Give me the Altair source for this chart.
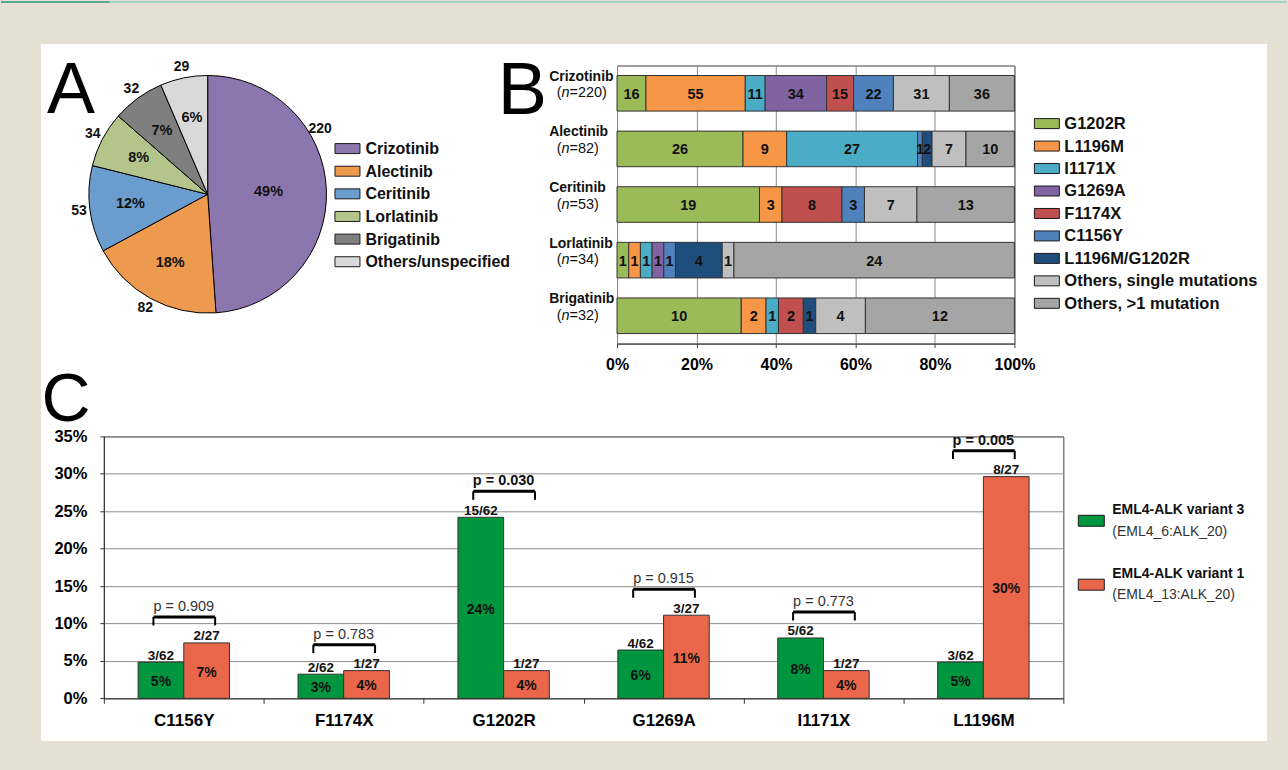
import altair as alt
import pandas as pd

FONT = "Liberation Sans"

# ---------------- data ----------------
# Panel A: patients per ALK TKI
a_drugs = ["Crizotinib", "Alectinib", "Ceritinib", "Lorlatinib", "Brigatinib", "Others/unspecified"]
a_counts = [220, 82, 53, 34, 32, 29]
a_colors = ["#8b76ad", "#ed9a4e", "#6a9dce", "#b4c58b", "#7f7f7f", "#d9d9d9"]

# Panel B: resistance mutations by drug
b_drugs = ["Crizotinib", "Alectinib", "Ceritinib", "Lorlatinib", "Brigatinib"]
b_totals = [220, 82, 53, 34, 32]
b_mutations = ["G1202R", "L1196M", "I1171X", "G1269A", "F1174X", "C1156Y",
               "L1196M/G1202R", "Others, single mutations", "Others, >1 mutation"]
b_colors = ["#9bbb59", "#f79646", "#4bacc6", "#8064a2", "#c0504d", "#4f81bd",
            "#1f4e7d", "#bfbfbf", "#a5a5a5"]
b_crizotinib = [16, 55, 11, 34, 15, 22, 0, 31, 36]
b_alectinib = [26, 9, 27, 0, 0, 1, 2, 7, 10]
b_ceritinib = [19, 3, 0, 0, 8, 3, 0, 7, 13]
b_lorlatinib = [1, 1, 1, 1, 0, 1, 4, 1, 24]
b_brigatinib = [10, 2, 1, 0, 2, 0, 1, 4, 12]

# Panel C: mutation frequency by EML4-ALK variant
c_mutations = ["C1156Y", "F1174X", "G1202R", "G1269A", "I1171X", "L1196M"]
c_variants = ["EML4-ALK variant 3", "EML4-ALK variant 1"]
c_variant_sub = ["(EML4_6:ALK_20)", "(EML4_13:ALK_20)"]
c_variant_n = [62, 27]
c_v3_counts = [3, 2, 15, 4, 5, 3]
c_v1_counts = [2, 1, 1, 3, 1, 8]
c_p_values = [0.909, 0.783, 0.030, 0.915, 0.773, 0.005]
c_colors = ["#00963f", "#e9664a"]

# ---------------- layout constants ----------------
W, H = 1288, 770
OX, OY = 103, 64.5          # absolute origin of first panel
A_W, TOP_H = 504, 278.5
GAP_H = 10
B_X = OX + A_W + GAP_H      # 617
B_W = 398
C_Y = 436
C_W, C_H = 961, 262.3
VGAP = C_Y - OY             # nested concat row is laid out flush from its top edge

RECT25 = "M-1,-0.4H1V0.4H-1Z"
RECT26 = "M-1,-0.423H1V0.423H-1Z"

one = pd.DataFrame({"k": [0]})


def rect_abs(x0, x1, y0, y1, color):
    return alt.Chart(one).mark_rect(color=color).encode(
        x=alt.value(x0 - OX), x2=alt.value(x1 - OX),
        y=alt.value(y0 - OY), y2=alt.value(y1 - OY))


def letter(t, x, y, size):
    return alt.Chart(pd.DataFrame({"t": [t]})).mark_text(
        fontSize=size, align="left", baseline="alphabetic", color="black", font=FONT
    ).encode(x=alt.value(x), y=alt.value(y), text="t:N")


# ---------------- Panel A ----------------
CX, CY = 207 - OX, 193.5 - OY
a_df = pd.DataFrame({"drug": a_drugs, "count": a_counts, "idx": list(range(len(a_drugs)))})
a_color = alt.Color("drug:N", scale=alt.Scale(domain=a_drugs, range=a_colors), legend=None)

pie_base = alt.Chart(a_df).transform_joinaggregate(
    total="sum(count)"
).transform_window(
    cum="sum(count)", sort=[alt.SortField("idx")], frame=[None, 0]
).transform_calculate(
    share="datum.count / datum.total",
    pct="format(datum.count / datum.total, '.0%')",
    mid_ang="2 * PI * (datum.cum - datum.count / 2) / datum.total",
    lab_ang="2 * PI * (datum.cum - datum.count + min(datum.count, datum.total / 3) / 2) / datum.total",
)

arcs = pie_base.mark_arc(outerRadius=119, stroke="black", strokeWidth=1).encode(
    theta=alt.Theta("count:Q", stack=True),
    order=alt.Order("idx:Q"),
    color=a_color,
    x=alt.value(CX), y=alt.value(CY),
)
pct_big = pie_base.transform_filter("datum.share > 0.4").mark_text(
    radius=61, fontSize=14.5, fontWeight="bold", color="#111", baseline="middle"
).encode(theta=alt.Theta("mid_ang:Q", scale=None, stack=False), text="pct:N",
         x=alt.value(CX), y=alt.value(CY))
pct_rest = pie_base.transform_filter("datum.share <= 0.4").mark_text(
    radius=78, fontSize=14.5, fontWeight="bold", color="#111", baseline="middle"
).encode(theta=alt.Theta("mid_ang:Q", scale=None, stack=False), text="pct:N",
         x=alt.value(CX), y=alt.value(CY))
cnt = pie_base.mark_text(
    radius=130, fontSize=14, fontWeight="bold", color="#111", baseline="middle"
).encode(theta=alt.Theta("lab_ang:Q", scale=None, stack=False), text="count:Q",
         x=alt.value(CX), y=alt.value(CY))

a_leg_y = alt.Y("drug:N", scale=alt.Scale(type="point", domain=a_drugs,
                                          range=[147.7 - OY, 147.7 - OY + 5 * 22.67], padding=0),
                axis=None)
a_sw = alt.Chart(a_df).mark_point(shape=RECT25, size=625, filled=True, opacity=1,
                                  stroke="#1a1a1a", strokeWidth=1).encode(
    x=alt.value(347 - OX), y=a_leg_y, color=a_color)
a_lt = alt.Chart(a_df).mark_text(align="left", baseline="middle", fontSize=16,
                                 fontWeight="bold", color="#111", dy=0.5).encode(
    x=alt.value(365 - OX), y=a_leg_y, text="drug:N")

chart_a = alt.layer(
    rect_abs(0, W, 0, H, "#e6dfd3"),
    rect_abs(0, 109, 0, 2, "#5ca792"),
    rect_abs(109, W, 0, 2, "#a3d3c5"),
    rect_abs(40, 1268, 43, 741, "#ffffff"),
    arcs, pct_big, pct_rest, cnt, a_sw, a_lt,
    letter("A", 46 - OX, 112 - OY, 72),
).properties(width=A_W, height=TOP_H)

# ---------------- Panel B ----------------
b_rows = []
for drug, n, counts in zip(b_drugs, b_totals,
                           [b_crizotinib, b_alectinib, b_ceritinib, b_lorlatinib, b_brigatinib]):
    for i, (m, c) in enumerate(zip(b_mutations, counts)):
        b_rows.append({"drug": drug, "n": n, "mut": m, "mi": i, "count": c})
b_df = pd.DataFrame(b_rows)

b_base = alt.Chart(b_df).transform_filter("datum.count > 0").transform_joinaggregate(
    total="sum(count)", groupby=["drug"]
).transform_window(
    cum="sum(count)", sort=[alt.SortField("mi")], groupby=["drug"], frame=[None, 0]
).transform_calculate(
    x0="(datum.cum - datum.count) / datum.total",
    x1="datum.cum / datum.total",
    xm="(datum.cum - datum.count / 2) / datum.total",
)

b_y = alt.Y("drug:N", scale=alt.Scale(domain=b_drugs, paddingInner=0.36, paddingOuter=0.18), axis=None)
b_xscale = alt.Scale(domain=[0, 1], nice=False)
b_color = alt.Color("mut:N", scale=alt.Scale(domain=b_mutations, range=b_colors), legend=None)
b_x_axis = alt.Axis(values=[0, 0.2, 0.4, 0.6, 0.8, 1.0], format="%", grid=True,
                    gridColor="#8c8c8c", gridWidth=1, domainColor="#404040",
                    tickColor="#404040", tickSize=4, labelFontSize=16, labelFontWeight="bold",
                    labelColor="black", labelPadding=9, labelFlush=False, labelOverlap=False,
                    title=None)

bars_b = b_base.mark_bar(stroke="#333333", strokeWidth=1).encode(
    x=alt.X("x0:Q", scale=b_xscale, axis=b_x_axis), x2="x1:Q", y=b_y, color=b_color)
txt_b = b_base.mark_text(fontSize=14.5, fontWeight="bold", color="#111", baseline="middle", dy=1.5).encode(
    x=alt.X("xm:Q", scale=b_xscale, axis=b_x_axis), y=b_y, text="count:Q")

# category labels: bold drug name, then "(n=...)" with an italic n
b_lab_df = pd.DataFrame({"drug": b_drugs, "n": b_totals})
LAB1_X = 549 - B_X
LAB2_X = 556.5 - B_X
ylab1 = alt.Chart(b_lab_df).mark_text(fontSize=14, fontWeight="bold", color="#111",
                                      baseline="middle", align="left", dy=-16.5).encode(
    x=alt.value(LAB1_X), y=b_y, text="drug:N")
lab2_base = alt.Chart(b_lab_df).transform_calculate(
    open="'('", nn="'n'", rest="'=' + datum.n + ')'")
ylab2a = lab2_base.mark_text(fontSize=14.5, color="#111", baseline="middle", align="left", dy=0).encode(
    x=alt.value(LAB2_X), y=b_y, text="open:N")
ylab2b = lab2_base.mark_text(fontSize=14.5, color="#111", baseline="middle", align="left",
                             fontStyle="italic", dy=0).encode(
    x=alt.value(LAB2_X + 0.333 * 14.5), y=b_y, text="nn:N")
ylab2c = lab2_base.mark_text(fontSize=14.5, color="#111", baseline="middle", align="left", dy=0).encode(
    x=alt.value(LAB2_X + (0.333 + 0.556) * 14.5), y=b_y, text="rest:N")

b_leg_df = pd.DataFrame({"mut": b_mutations})
b_leg_y = alt.Y("mut:N", scale=alt.Scale(type="point", domain=b_mutations,
                                         range=[122.7 - OY, 122.7 - OY + 8 * 22.5], padding=0),
                axis=None)
b_sw = alt.Chart(b_leg_df).mark_point(shape=RECT25, size=625, filled=True, opacity=1,
                                      stroke="#1a1a1a", strokeWidth=1).encode(
    x=alt.value(1047.5 - B_X), y=b_leg_y, color=b_color)
b_lt = alt.Chart(b_leg_df).mark_text(align="left", baseline="middle", fontSize=16.5,
                                     fontWeight="bold", color="#111", dy=0.5).encode(
    x=alt.value(1065 - B_X), y=b_leg_y, text="mut:N")

chart_b = alt.layer(
    bars_b, txt_b, ylab1, ylab2a, ylab2b, ylab2c, b_sw, b_lt,
    letter("B", 497.6 - B_X, 113 - OY, 74),
).resolve_scale(y="independent").properties(
    width=B_W, height=TOP_H, view=alt.ViewBackground(stroke="#404040", strokeWidth=1))

# ---------------- Panel C ----------------
c_rows = []
for vi, (var, tot, counts) in enumerate(zip(c_variants, c_variant_n, [c_v3_counts, c_v1_counts])):
    for m, k in zip(c_mutations, counts):
        c_rows.append({"mut": m, "variant": var, "vi": vi, "k": k, "tot": tot})
c_df = pd.DataFrame(c_rows)

c_base = alt.Chart(c_df).transform_calculate(
    pct="datum.k / datum.tot",
    mid="datum.k / datum.tot / 2",
    frac="datum.k + '/' + datum.tot",
    ptxt="format(datum.k / datum.tot, '.0%')",
)

c_xscale = alt.Scale(domain=c_mutations, paddingInner=0, paddingOuter=0)
c_xo = alt.XOffset("variant:N", scale=alt.Scale(domain=c_variants, paddingInner=0, paddingOuter=0.75))
c_color = alt.Color("variant:N", scale=alt.Scale(domain=c_variants, range=c_colors), legend=None)
c_x_axis = alt.Axis(tickBand="extent", tickSize=5, labelFontSize=17, labelFontWeight="bold",
                    labelColor="black", labelPadding=9, domainColor="#333333",
                    tickColor="#333333", title=None, labelAngle=0, grid=False)
c_y_axis = alt.Axis(values=[0, 0.05, 0.1, 0.15, 0.2, 0.25, 0.3, 0.35], format=".0%", grid=True,
                    gridColor="#8c8c8c", gridWidth=1, tickSize=4, labelFontSize=16.5,
                    labelFontWeight="bold", labelColor="black", labelPadding=13,
                    domainColor="#333333", tickColor="#333333", title=None)


def c_x(band=None):
    if band is None:
        return alt.X("mut:N", scale=c_xscale, axis=c_x_axis)
    return alt.X("mut:N", scale=c_xscale, axis=c_x_axis, bandPosition=band)


def c_y(field, axis=None):
    return alt.Y(field, scale=alt.Scale(domain=[0, 0.35], nice=False, zero=True), axis=axis)


bars_c = c_base.mark_bar(stroke="#333333", strokeWidth=1).encode(
    x=c_x(), xOffset=c_xo, y=c_y("pct:Q", c_y_axis), color=c_color)
pct_c = c_base.mark_text(fontSize=14, fontWeight="bold", color="#111", baseline="middle", dy=2).encode(
    x=c_x(), xOffset=c_xo, y=c_y("mid:Q"), text="ptxt:N")
frac_c = c_base.mark_text(fontSize=13.5, fontWeight="bold", color="#111",
                          baseline="alphabetic", dy=-2.5).encode(
    x=c_x(), xOffset=c_xo, y=c_y("pct:Q"), text="frac:N")

p_df = pd.DataFrame({
    "mut": c_mutations,
    "p": c_p_values,
    "top": [max(a / c_variant_n[0], b / c_variant_n[1]) for a, b in zip(c_v3_counts, c_v1_counts)],
})
p_base = alt.Chart(p_df).transform_calculate(plab="'p = ' + format(datum.p, '.3f')")

h_line = p_base.mark_rule(strokeWidth=3, color="black", yOffset=-26).encode(
    x=c_x(0.31), x2=alt.X2(field="mut", bandPosition=0.696), y=c_y("top:Q"))
tick_l = p_base.mark_rule(strokeWidth=2, color="black", yOffset=-26, y2Offset=-17.5).encode(
    x=c_x(0.31), y=c_y("top:Q"), y2="top:Q")
tick_r = p_base.mark_rule(strokeWidth=2, color="black", yOffset=-26, y2Offset=-17.5).encode(
    x=c_x(0.696), y=c_y("top:Q"), y2="top:Q")
p_sig = p_base.transform_filter("datum.p < 0.05").mark_text(
    fontSize=14.5, fontWeight="bold", color="#111", baseline="middle", dy=-36).encode(
    x=c_x(), y=c_y("top:Q"), text="plab:N")
p_ns = p_base.transform_filter("datum.p >= 0.05").mark_text(
    fontSize=14.5, color="#333333", baseline="middle", dy=-36).encode(
    x=c_x(), y=c_y("top:Q"), text="plab:N")

c_leg_df = pd.DataFrame({"variant": c_variants, "sub": c_variant_sub})
c_leg_y = alt.Y("variant:N", scale=alt.Scale(type="point", domain=c_variants,
                                             range=[520.5 - C_Y, 584.5 - C_Y], padding=0), axis=None)
c_sw = alt.Chart(c_leg_df).mark_point(shape=RECT26, size=676, filled=True, opacity=1,
                                      stroke="#1a1a1a", strokeWidth=1).encode(
    x=alt.value(1092 - OX), y=c_leg_y, color=c_color)
c_t1 = alt.Chart(c_leg_df).mark_text(align="left", baseline="middle", fontSize=14,
                                     fontWeight="bold", color="#111", dy=-10.5).encode(
    x=alt.value(1113 - OX), y=c_leg_y, text="variant:N")
c_t2 = alt.Chart(c_leg_df).mark_text(align="left", baseline="middle", fontSize=14,
                                     color="#333333", dy=10.8).encode(
    x=alt.value(1113 - OX), y=c_leg_y, text="sub:N")

chart_c = alt.layer(
    bars_c, pct_c, frac_c, h_line, tick_l, tick_r, p_sig, p_ns, c_sw, c_t1, c_t2,
    letter("C", 40.6 - OX, 421 - C_Y, 68),
).resolve_scale(y="independent").properties(
    width=C_W, height=C_H, view=alt.ViewBackground(stroke="#404040", strokeWidth=1))

# ---------------- compose ----------------
top = alt.hconcat(chart_a, chart_b, spacing=GAP_H, bounds="flush").resolve_scale(color="independent")
chart = alt.vconcat(top, chart_c, spacing=VGAP, bounds="flush").resolve_scale(
    color="independent"
).properties(
    background="#e6dfd3", padding=0, autosize=alt.AutoSizeParams(type="pad")
).configure(font=FONT).configure_view(stroke="transparent")

chart.save("out.html", embed_options={"renderer": "svg", "actions": False})
